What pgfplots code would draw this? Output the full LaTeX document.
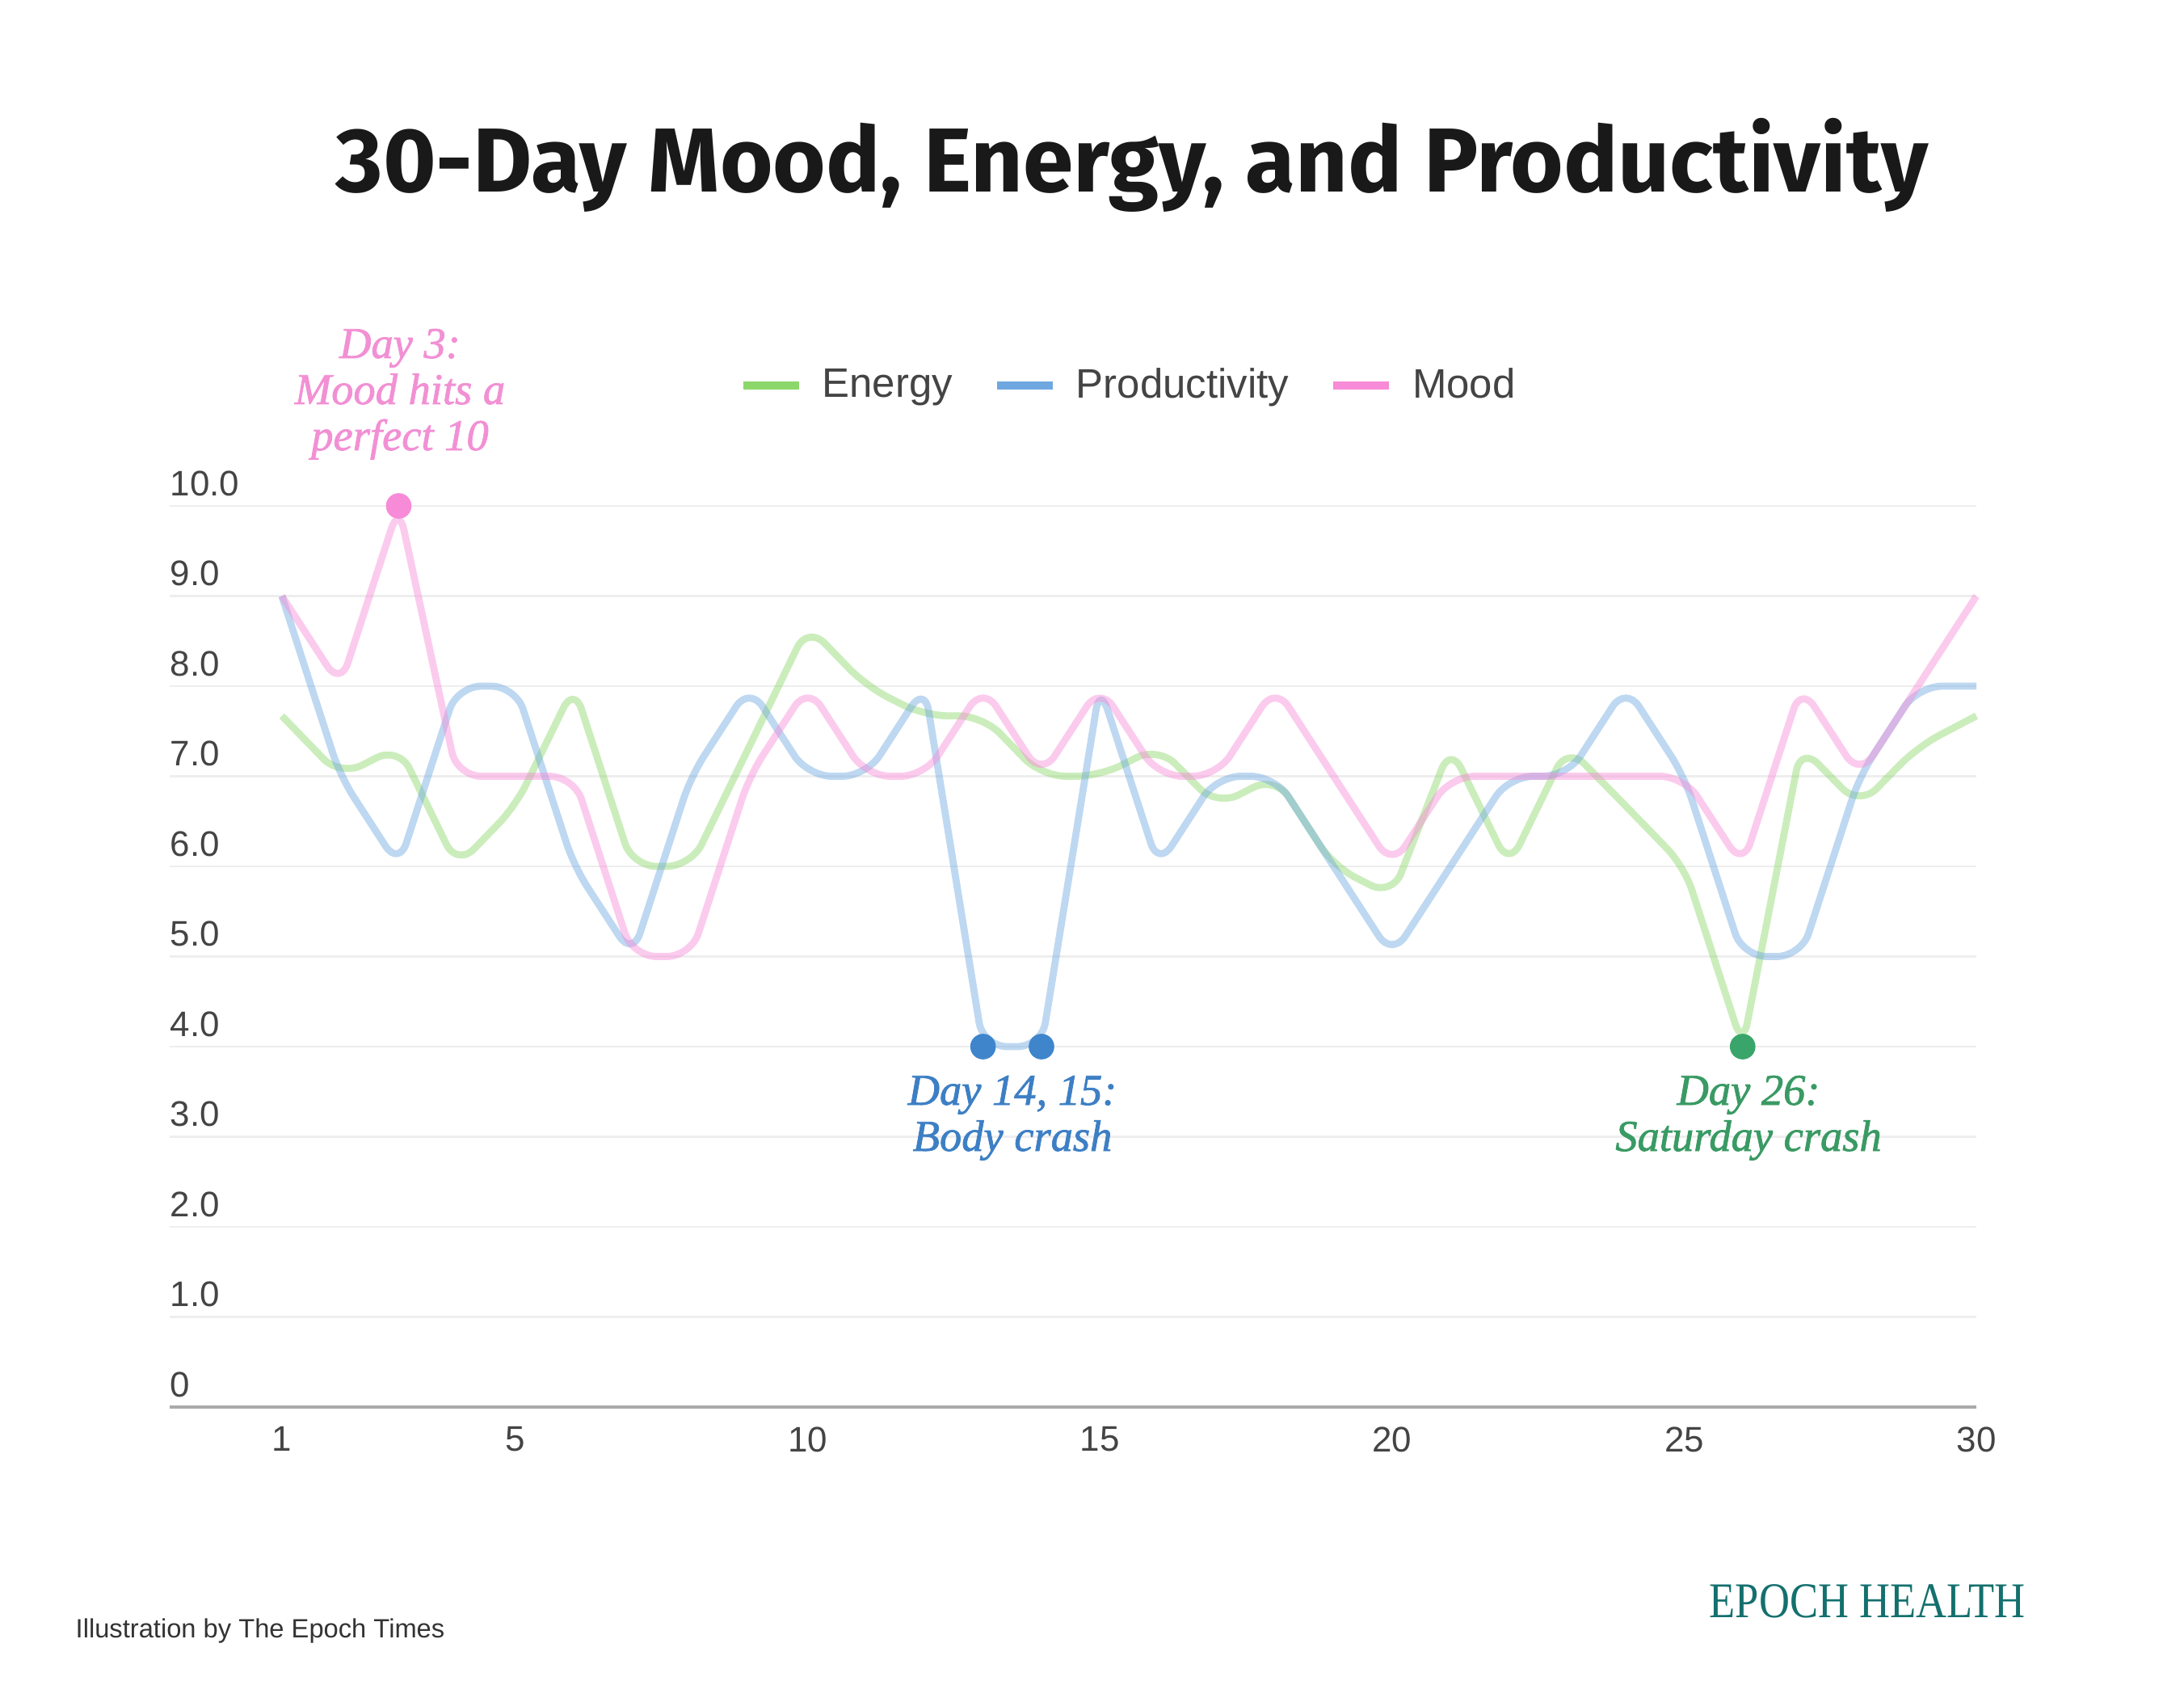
\documentclass[border=0pt]{standalone}
\usepackage{pgfplots}
\pgfplotsset{compat=1.18}
\usepackage{pgfplotstable}
\usepackage{fontspec}
\setmainfont{Liberation Sans}
\newfontfamily\titlefont{Fira Sans}
\newfontface\noteface{Liberation Serif Italic}[RawFeature={embolden=1.4}]
\newfontfamily\brandfont{Liberation Serif}

% series colours
\definecolor{energy}{HTML}{8CD76A}
\definecolor{prod}{HTML}{6FA8E0}
\definecolor{mood}{HTML}{F78BD8}
% highlight dots and their notes
\definecolor{energydot}{HTML}{3AA56A}
\definecolor{proddot}{HTML}{3F85CC}
\definecolor{mooddot}{HTML}{F78BD8}
\definecolor{energytxt}{HTML}{3A9A64}
\definecolor{prodtxt}{HTML}{3D7FC4}
\definecolor{moodtxt}{HTML}{F290D4}
% frame
\definecolor{labelgray}{HTML}{444444}
\definecolor{gridgray}{HTML}{EEEEEE}
\definecolor{axisgray}{HTML}{AAAAAA}
\definecolor{brand}{HTML}{14706E}

% daily scores, 30 days
\pgfplotstableread{
day energy productivity mood
1  7.67 9 9
2  7.00 7 8
3  7.33 6 10
4  6.00 8 7
5  6.67 8 7
6  8.00 6 7
7  6.00 5 5
8  6.00 7 5
9  7.33 8 7
10 8.67 7 8
11 8.00 7 7
12 7.67 8 7
13 7.67 4 8
14 7.00 4 7
15 7.00 8 8
16 7.33 6 7
17 6.67 7 7
18 7.00 7 8
19 6.00 6 7
20 5.67 5 6
21 7.33 6 7
22 6.00 7 7
23 7.33 7 7
24 6.67 8 7
25 6.00 7 7
26 4.00 5 6
27 7.33 5 8
28 6.67 7 7
29 7.33 8 8
30 7.67 8 9
}\dailydata

\begin{document}
\begin{tikzpicture}
% page frame
\path (0,0) rectangle (27.03cm,21cm);

% title
\node[anchor=base, text=black!90, inner sep=0pt] at (14.01cm,18.62cm)
  {\titlefont\bfseries\fontsize{32pt}{38pt}\selectfont 30-Day Mood, Energy, and Productivity};

\begin{axis}[
  at={(2.10cm,3.59cm)}, anchor=south west,
  scale only axis, width=22.36cm, height=11.15cm,
  xmin=-0.92, xmax=30, ymin=0, ymax=10,
  clip=false,
  axis x line*=bottom, axis y line*=left,
  x axis line style={draw=axisgray, line width=1.1pt, -},
  y axis line style={draw=none},
  major tick length=0pt,
  xtick={1,5,10,15,20,25,30},
  xticklabels={1,5,10,15,20,25,30},
  ytick={0,1,2,3,4,5,6,7,8,9,10},
  yticklabels={0,1.0,2.0,3.0,4.0,5.0,6.0,7.0,8.0,9.0,10.0},
  /pgf/number format/assume math mode=true,
  ymajorgrids, grid style={gridgray, line width=0.7pt},
  tick label style={font=\fontsize{12.5pt}{15pt}\selectfont, text=labelgray, inner sep=0pt},
  yticklabel style={anchor=base west, yshift=0.13cm},
  xticklabel style={anchor=north, yshift=-0.24cm},
  legend style={at={(0.530,1.134)}, anchor=center, draw=none, fill=none,
    font=\fontsize{14.5pt}{17pt}\selectfont, text=labelgray,
    nodes={inner sep=0pt},
    /tikz/every odd column/.append style={column sep=0.24cm},
    /tikz/every even column/.append style={column sep=0.50cm}},
  legend columns=3,
  legend cell align=left,
  legend image code/.code={\draw[#1] (0cm,0cm) -- (0.69cm,0cm);},
  series/.style={line width=2.5pt, opacity=0.45, sharp plot, rounded corners=0.3cm, line join=round, forget plot},
]
\addlegendimage{energy, line width=2.8pt}
\addlegendentry{Energy}
\addlegendimage{prod, line width=2.8pt}
\addlegendentry{Productivity}
\addlegendimage{mood, line width=2.8pt}
\addlegendentry{Mood}

\addplot[energy, series] table[x=day, y=energy] {\dailydata};
\addplot[prod, series] table[x=day, y=productivity] {\dailydata};
\addplot[mood, series] table[x=day, y=mood] {\dailydata};

% highlighted days
\addplot[only marks, mark=*, mark size=4.3pt, mooddot, forget plot] coordinates {(3,10)};
\addplot[only marks, mark=*, mark size=4.3pt, proddot, forget plot] coordinates {(13,4) (14,4)};
\addplot[only marks, mark=*, mark size=4.3pt, energydot, forget plot] coordinates {(26,4)};
\end{axis}

% notes
\begin{scope}[every node/.style={anchor=base, inner sep=0pt,
    font=\noteface\fontsize{15.5pt}{18pt}\selectfont}]
\node[text=moodtxt] at (4.95cm,16.57cm) {Day 3:};
\node[text=moodtxt] at (4.95cm,16.00cm) {Mood hits a};
\node[text=moodtxt] at (4.95cm,15.43cm) {perfect 10};
\node[text=prodtxt] at (12.53cm,7.33cm) {Day 14, 15:};
\node[text=prodtxt] at (12.53cm,6.76cm) {Body crash};
\node[text=energytxt] at (21.64cm,7.33cm) {Day 26:};
\node[text=energytxt] at (21.64cm,6.76cm) {Saturday crash};
\end{scope}

% footer
\node[anchor=base west, inner sep=0pt, text=black!80, font=\fontsize{9.3pt}{11pt}\selectfont] at (0.93cm,0.74cm) {Illustration by The Epoch Times};
\node[anchor=base west, inner sep=0pt, text=brand] at (21.15cm,0.99cm)
  {\scalebox{0.85}[1]{\brandfont\fontsize{17.6pt}{20pt}\selectfont EPOCH HEALTH}};
\end{tikzpicture}
\end{document}
